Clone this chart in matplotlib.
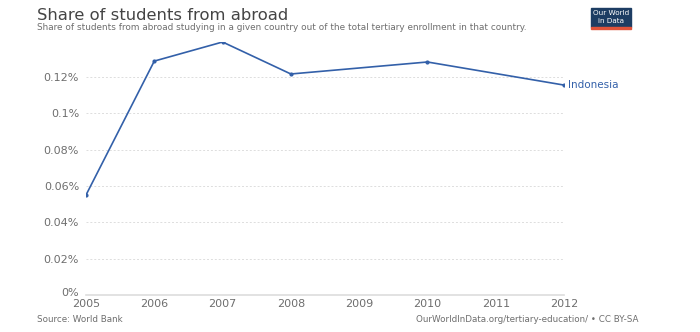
import matplotlib.pyplot as plt
from matplotlib.patches import Rectangle
from matplotlib.transforms import ScaledTranslation

# data
years = [2005, 2006, 2007, 2008, 2010, 2012]
share = [0.055, 0.1287, 0.1392, 0.1216, 0.1282, 0.1155]
yticks = [0, 0.02, 0.04, 0.06, 0.08, 0.1, 0.12]
ylabels = ["0%", "0.02%", "0.04%", "0.06%", "0.08%", "0.1%", "0.12%"]
xticks = [2005, 2006, 2007, 2008, 2009, 2010, 2011, 2012]

blue = "#3360a9"
grey = "#6e6e6e"

fig = plt.figure(figsize=(7, 3.32), dpi=100)
ax = fig.add_axes([86/700, 1-295/332, (564-86)/700, (295-42)/332])

ax.plot(years, share, color=blue, lw=1.2, marker="o", ms=2)
ax.text(2012 + 0.06, share[-1], "Indonesia", color=blue, fontsize=7.5, va="center")

ax.set_xlim(2005, 2012)
ax.set_ylim(0, 0.1392)
ax.set_yticks(yticks)
ax.set_yticklabels(ylabels)
ax.set_xticks(xticks)
ax.set_xticklabels([str(x) for x in xticks])
ax.tick_params(axis="both", length=0, labelsize=8, labelcolor=grey)
ax.tick_params(axis="x", pad=3)
ax.tick_params(axis="y", pad=5)
# small nudge up of the 0% label, as in the reference it sits just above 2005
lab0 = ax.get_yticklabels()[0]
lab0.set_transform(lab0.get_transform() + ScaledTranslation(0, 2/72, fig.dpi_scale_trans))

for t in yticks[1:]:
    ax.axhline(t, color="#dddddd", lw=0.7, ls=(0, (2, 2)), zorder=0)
for s in ["top", "right", "left"]:
    ax.spines[s].set_visible(False)
ax.spines["bottom"].set_color("#dddddd")
ax.spines["bottom"].set_linewidth(1.2)

fig.text(37/700, 1-15/332, "Share of students from abroad", fontsize=11.8, color="#444444", va="center")
fig.text(37/700, 1-27/332, "Share of students from abroad studying in a given country out of the total tertiary enrollment in that country.",
         fontsize=6.4, color=grey, va="center")
fig.text(37/700, 1-319/332, "Source: World Bank", fontsize=6.3, color=grey, va="center")
fig.text(638/700, 1-319/332, "OurWorldInData.org/tertiary-education/ \u2022 CC BY-SA", fontsize=6.3, color=grey,
         va="center", ha="right")

# logo
fig.patches.append(Rectangle((591/700, 1-27/332), 40/700, 19/332, transform=fig.transFigure, color="#1d3d63"))
fig.patches.append(Rectangle((591/700, 1-29/332), 40/700, 2/332, transform=fig.transFigure, color="#e0533a"))
fig.text(611/700, 1-13/332, "Our World", fontsize=5.2, color="white", ha="center", va="center")
fig.text(611/700, 1-21/332, "in Data", fontsize=5.2, color="white", ha="center", va="center")

fig.savefig("out.png", dpi=100, facecolor="white")
